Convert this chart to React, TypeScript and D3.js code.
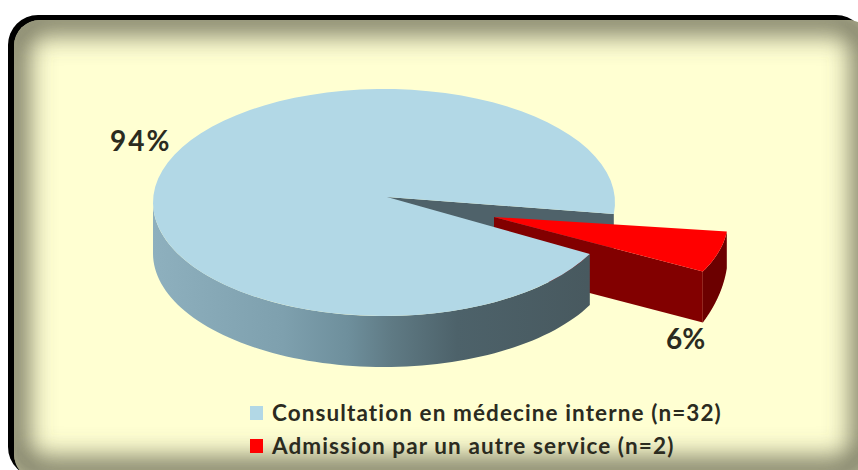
import React from "react";
import * as d3 from "d3";

const categories = ["Consultation en médecine interne (n=32)", "Admission par un autre service (n=2)"];
const counts = [32, 2];
const percentLabels = ["94%", "6%"];
const topColors = ["#b2d8e6", "#ff0000"];

const WIDTH = 858;
const HEIGHT = 470;
const RX = 231;
const RY = 113.5;
const DEPTH = 51;
const CENTER = { x: 384, y: 202.5 };
const APEX = { x: 387, y: 197 };
const RED_CENTER = { x: 497, y: 220 };
const RED_APEX = { x: 494, y: 217 };
const DEG = Math.PI / 180;

// Clockwise angles from twelve o'clock; the small slice sits just below three o'clock.
const slices = d3
  .pie<number>()
  .sort(null)
  .startAngle(117 * DEG)
  .endAngle(477 * DEG)(counts);

type Pt = { x: number; y: number };
const onRim = (c: Pt, a: number): [number, number] => [c.x + RX * Math.sin(a), c.y - RY * Math.cos(a)];
const rimLine = d3.line();
const rim = (c: Pt, a0: number, a1: number, dy: (t: number) => number = () => 0) => {
  const n = 80;
  return d3.range(n + 1).map((i) => {
    const t = i / n;
    const [x, y] = onRim(c, a0 + (a1 - a0) * t);
    return [x, y + dy(t)] as [number, number];
  });
};
const closed = (pts: [number, number][]) => rimLine(pts) + "Z";

const wallStops: [number, string][] = [
  [0, "#8eb0be"],
  [0.3, "#7ea0ae"],
  [0.45, "#6e8f9c"],
  [0.55, "#5f7a84"],
  [0.7, "#4d626a"],
  [1, "#48595f"],
];

export default function App() {
  const big = slices[0];
  const small = slices[1];

  const bigTop = closed([[APEX.x, APEX.y], ...rim(CENTER, big.startAngle, big.endAngle)]);
  const frontWall = closed([
    ...rim(CENTER, big.startAngle, 270 * DEG),
    ...rim(CENTER, big.startAngle, 270 * DEG, () => DEPTH).reverse(),
  ]);
  const [cutX, cutY] = onRim(CENTER, big.endAngle);
  const cutWall = closed([
    [APEX.x, APEX.y],
    [cutX, cutY],
    [cutX, cutY + DEPTH],
    [APEX.x, APEX.y + DEPTH],
  ]);

  const redTop = closed([[RED_APEX.x, RED_APEX.y], ...rim(RED_CENTER, small.startAngle, small.endAngle)]);
  const [redEndX, redEndY] = onRim(RED_CENTER, small.endAngle);
  // The outer wall tapers toward the far corner of the slice.
  const redRim = closed([
    ...rim(RED_CENTER, small.startAngle, small.endAngle),
    ...rim(RED_CENTER, small.startAngle, small.endAngle, (t) => DEPTH * (0.72 + 0.28 * t)).reverse(),
  ]);
  const redFace = closed([
    [RED_APEX.x, RED_APEX.y],
    [redEndX, redEndY],
    [redEndX, redEndY + DEPTH],
    [RED_APEX.x, RED_APEX.y + DEPTH],
  ]);

  return (
    <svg
      width={WIDTH}
      height={HEIGHT}
      viewBox={`0 0 ${WIDTH} ${HEIGHT}`}
      style={{ position: "fixed", left: 0, top: 0, fontFamily: "Lato", fontWeight: 700 }}
    >
      <defs>
        <clipPath id="panel">
          <rect x={14} y={20} width={860} height={460} rx={26} />
        </clipPath>
        <filter id="glow" x="-20%" y="-20%" width="140%" height="140%">
          <feGaussianBlur stdDeviation={14} />
        </filter>
        <linearGradient id="wall" gradientUnits="userSpaceOnUse" x1={152} x2={588} y1={0} y2={0}>
          {wallStops.map(([o, c]) => (
            <stop key={o} offset={o} stopColor={c} />
          ))}
        </linearGradient>
      </defs>

      <rect x={0} y={0} width={WIDTH} height={HEIGHT} fill="#fff" />
      <rect x={8} y={15} width={858} height={462} rx={30} fill="#000" />
      <rect x={14} y={20} width={860} height={460} rx={26} fill="#ffffd2" />
      <g clipPath="url(#panel)">
        <rect
          x={14}
          y={20}
          width={852}
          height={452}
          rx={26}
          fill="none"
          stroke="#5c5c4a"
          strokeWidth={24}
          filter="url(#glow)"
        />
      </g>

      <path d={cutWall} fill="#4f626a" />
      <path d={redRim} fill="#6c0000" />
      <path d={redFace} fill="#820000" />
      <path d={redTop} fill={topColors[1]} />
      <path d={frontWall} fill="url(#wall)" />
      <path d={bigTop} fill={topColors[0]} />

      <g fill="#2b2b1f">
        <text x={110} y={151} fontSize={28} letterSpacing={2}>{percentLabels[0]}</text>
        <text x={666} y={349} fontSize={28}>{percentLabels[1]}</text>
      </g>

      {categories.map((name, i) => (
        <g key={name}>
          <rect x={250} y={406 + i * 33} width={13} height={14} fill={topColors[i]} />
          <text x={272} y={421 + i * 33} fontSize={22.5} letterSpacing={1.1} fill="#2b2b1f">
            {name}
          </text>
        </g>
      ))}
    </svg>
  );
}
